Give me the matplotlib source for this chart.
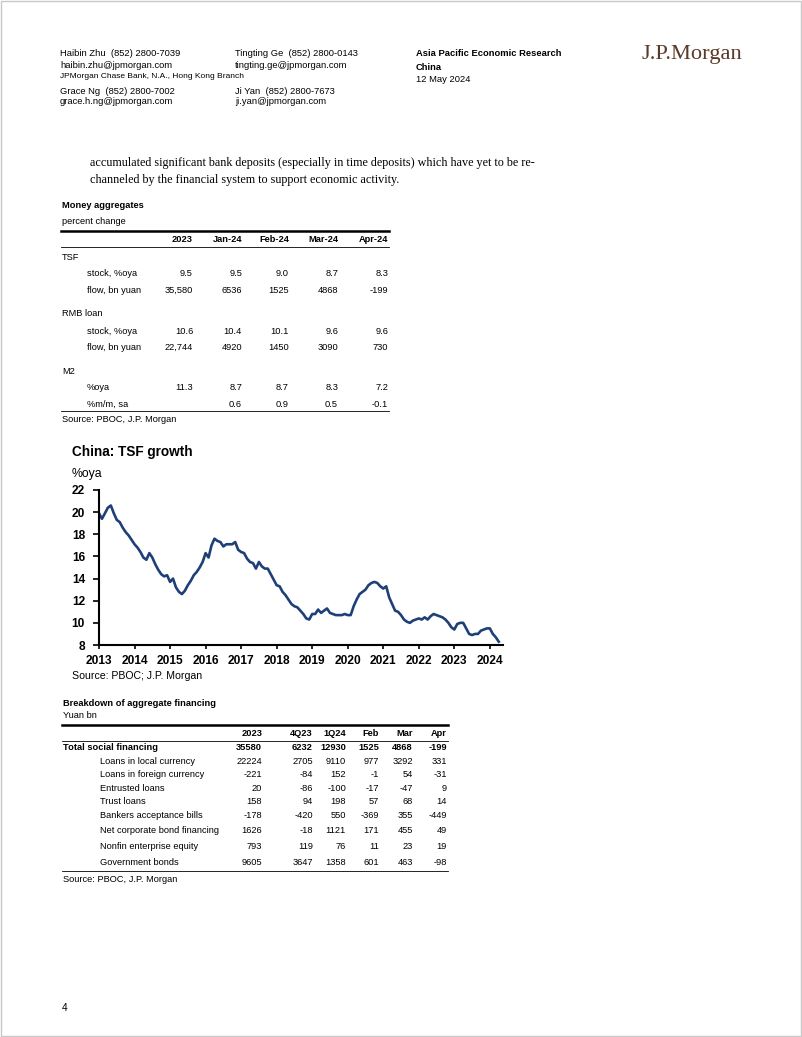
import numpy as np
import matplotlib
matplotlib.use("Agg")
import matplotlib.pyplot as plt
from matplotlib import font_manager
from matplotlib.patches import Rectangle

# TSF stock growth, %oya, monthly Jan-2013 .. Apr-2024
tsf = [19.9, 19.4, 19.9, 20.4, 20.6, 19.9, 19.3, 19.1, 18.6, 18.2, 17.9, 17.5,
       17.1, 16.8, 16.4, 15.9, 15.7, 16.3, 15.9, 15.3, 14.8, 14.4, 14.2, 14.3,
       13.7, 14.0, 13.2, 12.8, 12.6, 12.9, 13.4, 13.8, 14.3, 14.6, 15.0, 15.5,
       16.3, 15.9, 17.0, 17.6, 17.4, 17.3, 16.9, 17.1, 17.1, 17.1, 17.3, 16.6,
       16.4, 16.3, 15.8, 15.5, 15.4, 14.9, 15.5, 15.1, 14.9, 14.9, 14.4, 13.9,
       13.4, 13.3, 12.8, 12.5, 12.1, 11.7, 11.5, 11.4, 11.1, 10.8, 10.4, 10.3,
       10.8, 10.8, 11.2, 10.9, 11.1, 11.3, 10.9, 10.8, 10.7, 10.7, 10.7, 10.8,
       10.7, 10.7, 11.5, 12.1, 12.6, 12.8, 13.0, 13.4, 13.6, 13.7, 13.6, 13.3,
       13.1, 13.3, 12.3, 11.7, 11.1, 11.0, 10.7, 10.3, 10.1, 10.0, 10.2, 10.3,
       10.4, 10.3, 10.5, 10.3, 10.6, 10.8, 10.7, 10.6, 10.5, 10.3, 10.0, 9.6,
       9.4, 9.9, 10.0, 10.0, 9.5, 9.0, 8.9, 9.0, 9.0, 9.3, 9.4, 9.5,
       9.5, 9.0, 8.7, 8.3]
years = [2013, 2014, 2015, 2016, 2017, 2018, 2019, 2020, 2021, 2022, 2023, 2024]
yticks = [8, 10, 12, 14, 16, 18, 20, 22]

# money aggregates table
ma_cols = ["2023", "Jan-24", "Feb-24", "Mar-24", "Apr-24"]
ma_groups = ["TSF", "RMB loan", "M2"]
ma_rows = [["stock, %oya", "flow, bn yuan"],
           ["stock, %oya", "flow, bn yuan"],
           ["%oya", "%m/m, sa"]]
ma_vals = [[["9.5", "9.5", "9.0", "8.7", "8.3"], ["35,580", "6536", "1525", "4868", "-199"]],
           [["10.6", "10.4", "10.1", "9.6", "9.6"], ["22,744", "4920", "1450", "3090", "730"]],
           [["11.3", "8.7", "8.7", "8.3", "7.2"], ["", "0.6", "0.9", "0.5", "-0.1"]]]

# breakdown of aggregate financing
bd_cols = ["2023", "4Q23", "1Q24", "Feb", "Mar", "Apr"]
bd_labels = ["Total social financing", "Loans in local currency", "Loans in foreign currency",
             "Entrusted loans", "Trust loans", "Bankers acceptance bills",
             "Net corporate bond financing", "Nonfin enterprise equity", "Government bonds"]
bd_vals = [["35580", "6232", "12930", "1525", "4868", "-199"],
           ["22224", "2705", "9110", "977", "3292", "331"],
           ["-221", "-84", "152", "-1", "54", "-31"],
           ["20", "-86", "-100", "-17", "-47", "9"],
           ["158", "94", "198", "57", "68", "14"],
           ["-178", "-420", "550", "-369", "355", "-449"],
           ["1626", "-18", "1121", "171", "455", "49"],
           ["793", "119", "76", "11", "23", "19"],
           ["9605", "3647", "1358", "601", "463", "-98"]]

names = {f.name for f in font_manager.fontManager.ttflist}
NARROW = "Liberation Sans Narrow" in names


def nfont(px):
    # narrow sans (Arial Narrow look); fall back to plain sans a bit smaller
    if NARROW:
        return "Liberation Sans Narrow", px * 0.72
    return "Liberation Sans", px * 0.72 * 0.88


W, H = 802, 1037
fig = plt.figure(figsize=(W / 100, H / 100), dpi=100)
page = fig.add_axes([0, 0, 1, 1])
page.set_xlim(0, W)
page.set_ylim(H, 0)
page.axis("off")
page.add_patch(Rectangle((0.5, 0.5), W - 1.5, H - 1.5, fill=False, ec="#c8c8c8", lw=1))


def txt(x, y, s, px=9.4, bold=False, ha="left", narrow=False, family="Liberation Sans", color="black"):
    if narrow:
        family, size = nfont(px)
    else:
        size = px * 0.72
    page.text(x, y, s, fontsize=size, family=family, ha=ha, va="center",
              fontweight="bold" if bold else "normal", color=color)


# header
txt(60, 53, "Haibin Zhu  (852) 2800-7039")
txt(60, 65, "haibin.zhu@jpmorgan.com")
txt(60, 77, "JPMorgan Chase Bank, N.A., Hong Kong Branch", px=8.4)
txt(60, 91, "Grace Ng  (852) 2800-7002")
txt(60, 102, "grace.h.ng@jpmorgan.com")
txt(235, 53, "Tingting Ge  (852) 2800-0143")
txt(235, 65, "tingting.ge@jpmorgan.com")
txt(235, 91, "Ji Yan  (852) 2800-7673")
txt(235, 102, "ji.yan@jpmorgan.com")
txt(416, 53, "Asia Pacific Economic Research", px=9.4, bold=True)
txt(416, 67, "China", px=9.4, bold=True)
txt(416, 79, "12 May 2024", px=9.4)
txt(641, 55, "J.P.Morgan", px=22.5, family="Liberation Serif", color="#5a3a28")

# body text
txt(90, 163, "accumulated significant bank deposits (especially in time deposits) which have yet to be re-",
    px=12.1, family="Liberation Serif")
txt(90, 180, "channeled by the financial system to support economic activity.",
    px=12.1, family="Liberation Serif")

# money aggregates table
TP = 10.5
txt(62, 206, "Money aggregates", px=TP, bold=True, narrow=True)
txt(62, 221, "percent change", px=TP, narrow=True)
page.plot([61, 389], [231, 231], color="black", lw=1.8)
ma_x = [193, 242, 289, 338, 388]
for cx, c in zip(ma_x, ma_cols):
    txt(cx, 239, c, px=TP, bold=True, ha="right", narrow=True)
page.plot([61, 389], [247, 247], color="black", lw=0.6)
gy = [257, 314, 371]
for g, y0 in enumerate(gy):
    txt(62, y0, ma_groups[g], px=TP, narrow=True)
    for r in range(2):
        y = y0 + 17 + r * 16.5
        txt(87, y, ma_rows[g][r], px=TP, narrow=True)
        for cx, v in zip(ma_x, ma_vals[g][r]):
            txt(cx, y, v, px=TP, ha="right", narrow=True)
page.plot([61, 389], [411, 411], color="black", lw=0.6)
txt(62, 420, "Source: PBOC, J.P. Morgan", px=TP, narrow=True)

# chart
txt(72, 452, "China: TSF growth", px=15.5, bold=True, narrow=True)
txt(72, 474, "%oya", px=14, narrow=True)
ax = fig.add_axes([99 / W, 1 - 645 / H, (503 - 99) / W, (645 - 490) / H])
xs = 2013 + np.arange(len(tsf)) / 12
ax.plot(xs, tsf, color="#1f3f78", lw=1.9, solid_joinstyle="round")
ax.set_xlim(2013, 2024.37)
ax.set_ylim(8, 22)
ax.set_xticks(years)
ax.set_yticks(yticks)
fam, sz = nfont(13.5)
ax.set_xticklabels([str(y) for y in years], fontsize=sz, family=fam, fontweight="bold")
ax.set_yticklabels([str(v) for v in yticks], fontsize=sz, family=fam, fontweight="bold")
ax.tick_params(axis="x", length=3, width=1.2, direction="out", pad=4)
ax.tick_params(axis="y", length=4, width=1.2, direction="out", pad=6)
for s in ["top", "right"]:
    ax.spines[s].set_visible(False)
for s in ["left", "bottom"]:
    ax.spines[s].set_linewidth(1.5)
ax.patch.set_alpha(0)
txt(72, 676, "Source: PBOC; J.P. Morgan", px=12, narrow=True)

# breakdown table
txt(63, 703, "Breakdown of aggregate financing", px=TP, bold=True, narrow=True)
txt(63, 716, "Yuan bn", px=TP, narrow=True)
page.plot([62, 448], [724.5, 724.5], color="black", lw=1.8)
bd_x = [262, 313, 346, 379, 413, 447]
for cx, c in zip(bd_x, bd_cols):
    txt(cx, 733, c, px=TP, bold=True, ha="right", narrow=True)
page.plot([62, 448], [740.5, 740.5], color="black", lw=0.6)
bd_y = [747.5, 761, 774.5, 788.5, 802, 815.5, 830.5, 846.5, 862.5]
for i, (lab, y) in enumerate(zip(bd_labels, bd_y)):
    b = i == 0
    txt(63 if b else 100, y, lab, px=TP, bold=b, narrow=True)
    for cx, v in zip(bd_x, bd_vals[i]):
        txt(cx, y, v, px=TP, bold=b, ha="right", narrow=True)
page.plot([62, 448], [870.5, 870.5], color="black", lw=0.6)
txt(63, 879, "Source: PBOC, J.P. Morgan", px=TP, narrow=True)

txt(62, 1008, "4", px=10)

fig.savefig("out.png", dpi=100)
